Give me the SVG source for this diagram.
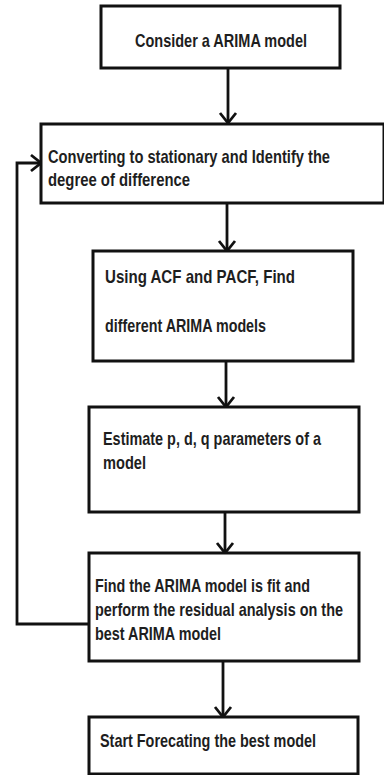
<svg xmlns="http://www.w3.org/2000/svg" width="384" height="775" viewBox="0 0 384 775">
<defs>
<style>
.box{fill:#fff;stroke:#111;stroke-width:3}
.t{font-family:"Liberation Sans",Arial,sans-serif;font-weight:bold;font-size:19px;fill:#1e1e1e}
.c{fill:none;stroke:#111;stroke-width:2.8}
</style>
<marker id="v" viewBox="0 0 20 20" refX="18" refY="10" markerWidth="20" markerHeight="20" markerUnits="userSpaceOnUse" orient="auto">
<path d="M8,2 L18,10 L8,18" fill="none" stroke="#111" stroke-width="2.8"/>
</marker>
</defs>
<rect width="384" height="775" fill="#fff"/>
<g id="connectors">
<line class="c" x1="228" y1="68" x2="228" y2="123" marker-end="url(#v)"/>
<line class="c" x1="227" y1="203" x2="227" y2="251" marker-end="url(#v)"/>
<line class="c" x1="226" y1="361" x2="226" y2="407" marker-end="url(#v)"/>
<line class="c" x1="225" y1="512" x2="225" y2="553" marker-end="url(#v)"/>
<line class="c" x1="223" y1="661" x2="223" y2="717" marker-end="url(#v)"/>
<polyline class="c" points="89,624 17,624 17,163 41,163" marker-end="url(#v)"/>
</g>
<g id="n1">
<rect class="box" x="101" y="6" width="239" height="62"/>
<text class="t" x="135" y="47" textLength="172" lengthAdjust="spacingAndGlyphs">Consider a ARIMA model</text>
</g>
<g id="n2">
<rect class="box" x="41" y="124" width="343" height="79"/>
<text class="t" x="48" y="163" textLength="282" lengthAdjust="spacingAndGlyphs">Converting to stationary and Identify the</text>
<text class="t" x="48" y="186" textLength="142" lengthAdjust="spacingAndGlyphs">degree of difference</text>
</g>
<g id="n3">
<rect class="box" x="93" y="251" width="260" height="110"/>
<text class="t" x="105" y="283" textLength="190" lengthAdjust="spacingAndGlyphs">Using ACF and PACF,  Find</text>
<text class="t" x="105" y="332" textLength="161" lengthAdjust="spacingAndGlyphs">different ARIMA models</text>
</g>
<g id="n4">
<rect class="box" x="89" y="407" width="270" height="105"/>
<text class="t" x="103" y="445" textLength="218" lengthAdjust="spacingAndGlyphs">Estimate p, d, q parameters of a</text>
<text class="t" x="103" y="469" textLength="43" lengthAdjust="spacingAndGlyphs">model</text>
</g>
<g id="n5">
<rect class="box" x="89" y="553" width="270" height="108"/>
<text class="t" x="95" y="592" textLength="215" lengthAdjust="spacingAndGlyphs">Find the ARIMA model is fit and</text>
<text class="t" x="95" y="616" textLength="248" lengthAdjust="spacingAndGlyphs">perform the residual analysis on the</text>
<text class="t" x="95" y="640" textLength="126" lengthAdjust="spacingAndGlyphs">best ARIMA model</text>
</g>
<g id="n6">
<rect class="box" x="89" y="717" width="269" height="57"/>
<text class="t" x="100" y="747" textLength="216" lengthAdjust="spacingAndGlyphs">Start Forecating the best model</text>
</g>
</svg>
